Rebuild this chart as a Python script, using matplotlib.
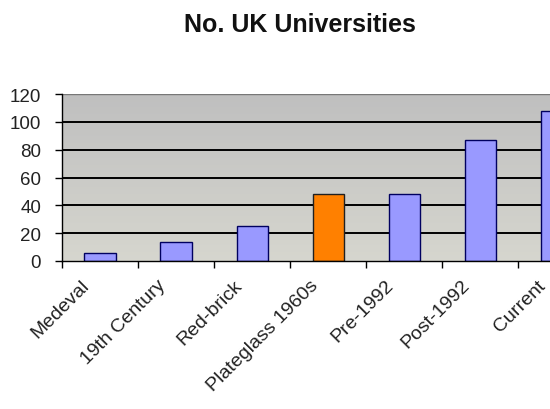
import matplotlib
matplotlib.use("Agg")
import matplotlib.pyplot as plt
import matplotlib.transforms as mtransforms
import numpy as np

categories = ["Medeval", "19th Century", "Red-brick", "Plateglass 1960s",
              "Pre-1992", "Post-1992", "Current"]
values = [6, 14, 25, 48, 48, 87, 108]
highlight = "Plateglass 1960s"
yticks = [0, 20, 40, 60, 80, 100, 120]

plt.rcParams['font.family'] = ['Liberation Sans', 'DejaVu Sans']

fig = plt.figure(figsize=(5.5, 4.1), dpi=100)
fig.patch.set_facecolor('white')
ax = fig.add_axes([0.1127, 0.361, 0.968, 0.407])

x = np.arange(len(categories))
n = len(categories)

# gradient background (top darker, bottom lighter)
grad = np.linspace(0, 1, 256).reshape(-1, 1)
top = np.array([0.75, 0.75, 0.75])
bot = np.array([0.84, 0.84, 0.81])
img = top[None, None, :] * (1 - grad[:, :, None]) + bot[None, None, :] * grad[:, :, None]
ax.imshow(img, extent=[-0.5, n - 0.5, 0, 120], origin='upper', aspect='auto', zorder=0)
ax.set_xlim(-0.5, n - 0.5)
ax.set_ylim(0, 120)

for yv in yticks[1:-1]:
    ax.axhline(yv, color='black', lw=1.4, zorder=1)
ax.axhline(120, color='#777777', lw=1.0, zorder=1)

colors = ['#ff8000' if c == highlight else '#9999ff' for c in categories]
edges = ['#202020' if c == highlight else '#000060' for c in categories]
ax.bar(x, values, width=0.41, color=colors, edgecolor=edges, linewidth=1.0, zorder=2)

for s in ['top', 'right']:
    ax.spines[s].set_visible(False)
ax.spines['left'].set_color('black')
ax.spines['bottom'].set_color('black')
ax.spines['left'].set_linewidth(1.0)
ax.spines['bottom'].set_linewidth(1.0)

ax.set_yticks(yticks)
ax.set_yticklabels([str(v) for v in yticks], fontsize=13.5, color='#222222')
ax.tick_params(axis='y', length=5, width=1, direction='out', pad=10)

ax.set_xticks(np.arange(-0.5, n, 1.0))
ax.set_xticklabels([])
ax.tick_params(axis='x', which='major', length=5, width=1, direction='out')
ax.set_xticks(x, minor=True)
ax.set_xticklabels(categories, minor=True, rotation=45, ha='right',
                   rotation_mode='anchor', fontsize=14, color='#222222')
ax.tick_params(axis='x', which='minor', length=0, pad=11)
shift = mtransforms.ScaledTranslation(-19 / 100, 0, fig.dpi_scale_trans)
for lbl in ax.get_xticklabels(minor=True):
    lbl.set_transform(lbl.get_transform() + shift)

fig.text(0.545, 0.94, "No. UK Universities", ha='center', va='center',
         fontsize=18, fontweight='bold', color='#111111')

fig.savefig("out.png", dpi=100)
